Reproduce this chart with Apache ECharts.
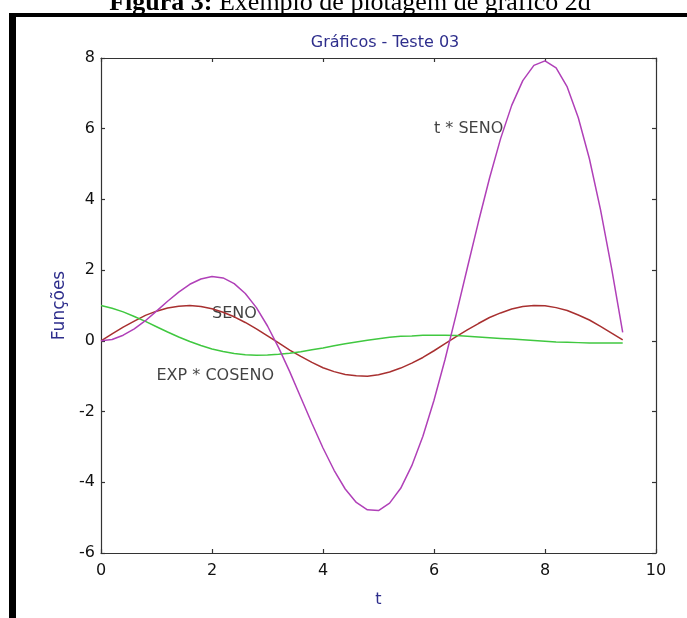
<!DOCTYPE html>
<html>
<head>
<meta charset="utf-8">
<script src="https://cdn.jsdelivr.net/npm/echarts@6/dist/echarts.min.js"></script>
<style>
html,body{margin:0;padding:0;background:#fff;}
#c{width:687px;height:618px;}
</style>
</head>
<body>
<div id="c"></div>
<script>
// Data (t from 0 to 9.4)
const tValues = [0,0.2,0.4,0.6,0.8,1.0,1.2,1.4,1.6,1.8,2.0,2.2,2.4,2.6,2.8,3.0,3.2,3.4,3.6,3.8,4.0,4.2,4.4,4.6,4.8,5.0,5.2,5.4,5.6,5.8,6.0,6.2,6.4,6.6,6.8,7.0,7.2,7.4,7.6,7.8,8.0,8.2,8.4,8.6,8.8,9.0,9.2,9.4];
const seno = [0,0.20,0.39,0.56,0.72,0.84,0.93,0.98,1.00,0.97,0.91,0.81,0.68,0.52,0.34,0.14,-0.06,-0.26,-0.44,-0.61,-0.76,-0.87,-0.95,-0.99,-1.00,-0.96,-0.88,-0.77,-0.63,-0.47,-0.28,-0.08,0.12,0.31,0.49,0.66,0.79,0.90,0.97,1.00,0.99,0.94,0.86,0.73,0.59,0.41,0.22,0.03];
const tSeno = [0,0.04,0.16,0.34,0.57,0.84,1.12,1.38,1.60,1.75,1.82,1.78,1.62,1.34,0.94,0.42,-0.19,-0.87,-1.60,-2.33,-3.03,-3.66,-4.19,-4.57,-4.78,-4.80,-4.59,-4.17,-3.53,-2.70,-1.68,-0.52,0.75,2.06,3.36,4.60,5.72,6.66,7.36,7.79,7.92,7.72,7.18,6.31,5.15,3.71,2.05,0.24];
const expCoseno = [1.00,0.92,0.82,0.69,0.55,0.40,0.25,0.11,-0.02,-0.13,-0.23,-0.30,-0.36,-0.39,-0.41,-0.40,-0.38,-0.35,-0.31,-0.25,-0.20,-0.14,-0.08,-0.03,0.02,0.06,0.10,0.13,0.14,0.16,0.16,0.16,0.15,0.13,0.11,0.09,0.07,0.05,0.03,0.01,-0.01,-0.03,-0.04,-0.05,-0.06,-0.06,-0.06,-0.06];
const textLabels = ['t * SENO','SENO','EXP * COSENO'];
const textX = [6.0, 2.0, 1.0];
const textY = [6.0, 0.75, -1.0];
const xTicks = [0,2,4,6,8,10];
const yTicks = [-6,-4,-2,0,2,4,6,8];

const pair = (ys) => tValues.map((t,i)=>[t, ys[i]]);
const chart = echarts.init(document.getElementById('c'));
const FONT = 'DejaVu Sans, Verdana, sans-serif';
const tickFont = {color:'#111', fontSize:16, fontFamily:FONT};
const lineStyleAxis = {color:'#333', width:1.2};
chart.setOption({
  animation:false,
  backgroundColor:'#fff',
  title:{
    text:'Gráficos - Teste 03', left:380, top:30, textAlign:'center',
    textStyle:{color:'#2e2e8c', fontSize:16, fontWeight:'normal', fontFamily:FONT}
  },
  grid:{left:101, right:31, top:58, bottom:65},
  xAxis:[{
    type:'value', min:xTicks[0], max:xTicks[xTicks.length-1], interval:2,
    name:'t', nameLocation:'middle', nameGap:39,
    nameTextStyle:{color:'#2e2e8c', fontSize:16, fontFamily:FONT},
    axisLine:{show:true, onZero:false, lineStyle:lineStyleAxis},
    axisTick:{show:true, inside:true, length:4, lineStyle:lineStyleAxis},
    axisLabel:{...tickFont, margin:10},
    splitLine:{show:false}
  },{
    type:'value', position:'top', min:0, max:10, interval:2,
    axisLine:{show:true, onZero:false, lineStyle:lineStyleAxis},
    axisTick:{show:true, inside:true, length:4, lineStyle:lineStyleAxis},
    axisLabel:{show:false}, splitLine:{show:false}
  }],
  yAxis:[{
    type:'value', min:yTicks[0], max:yTicks[yTicks.length-1], interval:2,
    name:'Funções', nameLocation:'middle', nameGap:27, nameRotate:90,
    nameTextStyle:{color:'#2e2e8c', fontSize:17, fontFamily:FONT},
    axisLine:{show:true, onZero:false, lineStyle:lineStyleAxis},
    axisTick:{show:true, inside:true, length:4, lineStyle:lineStyleAxis},
    axisLabel:{...tickFont, margin:6},
    splitLine:{show:false}
  },{
    type:'value', position:'right', min:-6, max:8, interval:2,
    axisLine:{show:true, onZero:false, lineStyle:lineStyleAxis},
    axisTick:{show:true, inside:true, length:4, lineStyle:lineStyleAxis},
    axisLabel:{show:false}, splitLine:{show:false}
  }],
  graphic:[
    {type:'rect', shape:{x:9, y:13, width:7, height:610}, style:{fill:'#000'}},
    {type:'rect', shape:{x:9, y:13, width:690, height:4}, style:{fill:'#000'}},
    {type:'text', x:350, y:-10, style:{
      align:'center',
      rich:{b:{fontWeight:'bold', fontSize:26, fontFamily:'Liberation Serif, Times New Roman, serif', fill:'#000'},
            n:{fontSize:26, fontFamily:'Liberation Serif, Times New Roman, serif', fill:'#000'}},
      text:'{b|Figura 3:}{n| Exemplo de plotagem de gráfico 2d}'
    }}
  ],
  series:[
    {type:'line', name:'SENO', data:pair(seno), showSymbol:false, symbol:'none', smooth:false,
     lineStyle:{color:'#a83030', width:1.5}},
    {type:'line', name:'EXP * COSENO', data:pair(expCoseno), showSymbol:false, symbol:'none',
     lineStyle:{color:'#40c840', width:1.5}},
    {type:'line', name:'t * SENO', data:pair(tSeno), showSymbol:false, symbol:'none',
     lineStyle:{color:'#b040b8', width:1.5}},
    {type:'scatter', symbolSize:0, silent:true,
     data:textLabels.map((s,i)=>({name:s, value:[textX[i], textY[i]]})),
     label:{show:true, position:'right', distance:0, formatter:(p)=>p.name,
       color:'#111', fontSize:16, fontFamily:FONT}}
  ]
});
</script>
</body>
</html>
